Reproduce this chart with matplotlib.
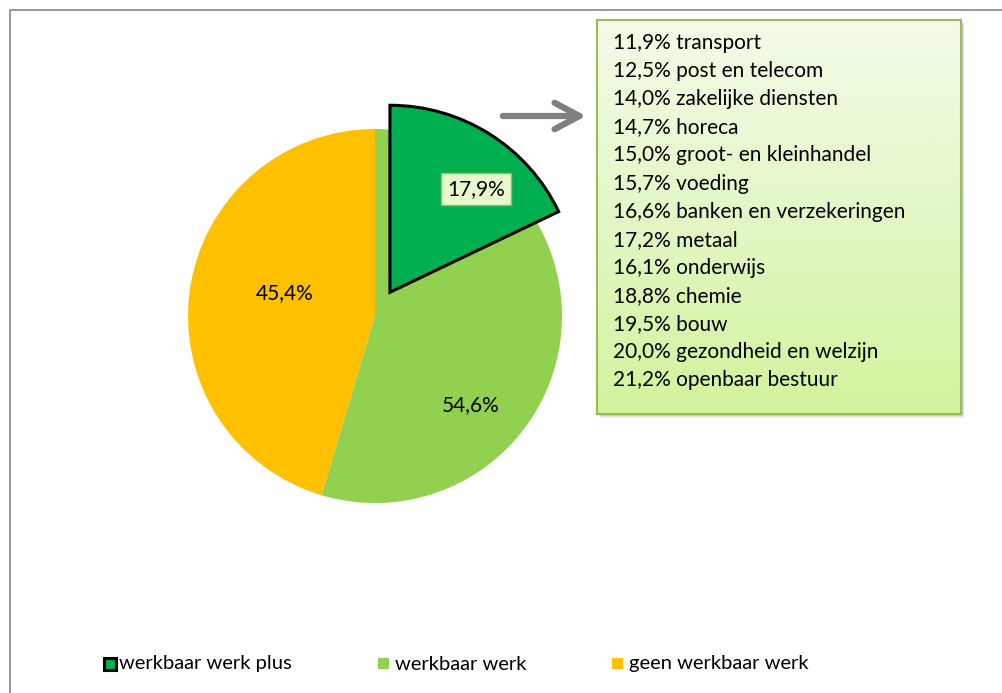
import numpy as np
import matplotlib
matplotlib.use("Agg")
import matplotlib.pyplot as plt
from matplotlib.patches import Rectangle, FancyArrowPatch
from matplotlib.colors import LinearSegmentedColormap

# --- Data ---
categories = ["werkbaar werk plus", "werkbaar werk", "geen werkbaar werk"]
colors = ["#00B050", "#92D050", "#FFC000"]
pie_values = [45.4, 54.6]          # geen werkbaar werk, werkbaar werk
pie_labels = ["45,4%", "54,6%"]
plus_value = 17.9                  # werkbaar werk plus (part of werkbaar werk)
plus_label = "17,9%"
sector_values = ["11,9%", "12,5%", "14,0%", "14,7%", "15,0%", "15,7%", "16,6%",
                 "17,2%", "16,1%", "18,8%", "19,5%", "20,0%", "21,2%"]
sector_names = ["transport", "post en telecom", "zakelijke diensten", "horeca",
                "groot- en kleinhandel", "voeding", "banken en verzekeringen",
                "metaal", "onderwijs", "chemie", "bouw", "gezondheid en welzijn",
                "openbaar bestuur"]

W, H = 1002, 693
plt.rcParams["font.family"] = ["Lato", "DejaVu Sans"]
FS = 15

fig = plt.figure(figsize=(W / 100, H / 100), dpi=100)


def fx(x):
    return x / W


def fy(y):
    return 1 - y / H


# outer chart frame (only top and left edges visible)
fig.add_artist(Rectangle((fx(9.5), -0.1), 1.2, fy(10.5) + 0.1, transform=fig.transFigure,
                         fill=False, edgecolor="#868686", lw=1.2, zorder=-5))

# --- Pie ---
cx, cy, R = 375, 316, 187
half = 220
ax = fig.add_axes([fx(cx - half), fy(cy + half), 2 * half / W, 2 * half / H])
ax.pie(pie_values, colors=[colors[2], colors[1]], startangle=90, counterclock=True,
       wedgeprops=dict(linewidth=0))
wedges, _ = ax.pie([plus_value, 100 - plus_value], colors=[colors[0], "none"],
                   startangle=90, counterclock=False, explode=[0.15, 0],
                   wedgeprops=dict(linewidth=2.2, edgecolor="black"))
wedges[1].set_visible(False)
lim = half / R
ax.set_xlim(-lim, lim)
ax.set_ylim(-lim, lim)
ax.set_axis_off()


def d(px, py):
    return (px - cx) / R, (cy - py) / R


ax.text(*d(285, 293), pie_labels[0], ha="center", va="center", fontsize=FS)
ax.text(*d(471, 405), pie_labels[1], ha="center", va="center", fontsize=FS)
ax.text(*d(476, 189), plus_label, ha="center", va="center", fontsize=FS,
        bbox=dict(boxstyle="square,pad=0.3", fc="#E6F8CC", ec="#9BBB59", lw=1))

# --- Arrow ---
fig.add_artist(FancyArrowPatch((fx(500), fy(116)), (fx(589), fy(116)),
                               transform=fig.transFigure,
                               arrowstyle="->,head_length=1.8,head_width=0.95",
                               mutation_scale=10, color="#7F7F7F", lw=4.5,
                               capstyle="round", joinstyle="round"))

# --- Sector text box ---
bx0, by0, bx1, by1 = 597, 20, 961, 414
for k, a in enumerate([0.10, 0.07, 0.04]):
    fig.add_artist(Rectangle((fx(bx0 + 2 + k), fy(by1 + 2 + k)), (bx1 - bx0) / W,
                             (by1 - by0) / H, transform=fig.transFigure,
                             fc="black", ec="none", alpha=a, zorder=-2))
bax = fig.add_axes([fx(bx0), fy(by1), (bx1 - bx0) / W, (by1 - by0) / H])
grad = LinearSegmentedColormap.from_list("g", ["#F2FCE8", "#E3F7C6", "#D3F39C"])
bax.imshow(np.linspace(0, 1, 256).reshape(-1, 1), cmap=grad, aspect="auto",
           extent=[0, 1, 0, 1], origin="upper")
bax.set_xlim(0, 1)
bax.set_ylim(0, 1)
bax.set_xticks([])
bax.set_yticks([])
for s in bax.spines.values():
    s.set_color("#9BBB59")
    s.set_linewidth(1.5)

for i, (v, n) in enumerate(zip(sector_values, sector_names)):
    y = 43 + i * 28.1
    bax.text((613 - bx0) / (bx1 - bx0), (by1 - y) / (by1 - by0), f"{v} {n}",
             ha="left", va="center", fontsize=FS, transform=bax.transAxes)

# --- Legend ---
leg_x = [102, 378, 612]
for x, name, col in zip(leg_x, categories, colors):
    if name == "werkbaar werk plus":
        fig.add_artist(Rectangle((fx(x + 1.5), fy(670)), 12 / W, 12 / H,
                                 transform=fig.transFigure, fc=col, ec="black", lw=2.2))
    else:
        fig.add_artist(Rectangle((fx(x), fy(669)), 11 / W, 11 / H,
                                 transform=fig.transFigure, fc=col, ec="none"))
    fig.text(fx(x + 17), fy(664), name, ha="left", va="center", fontsize=14.5)

fig.savefig("out.png", dpi=100)
